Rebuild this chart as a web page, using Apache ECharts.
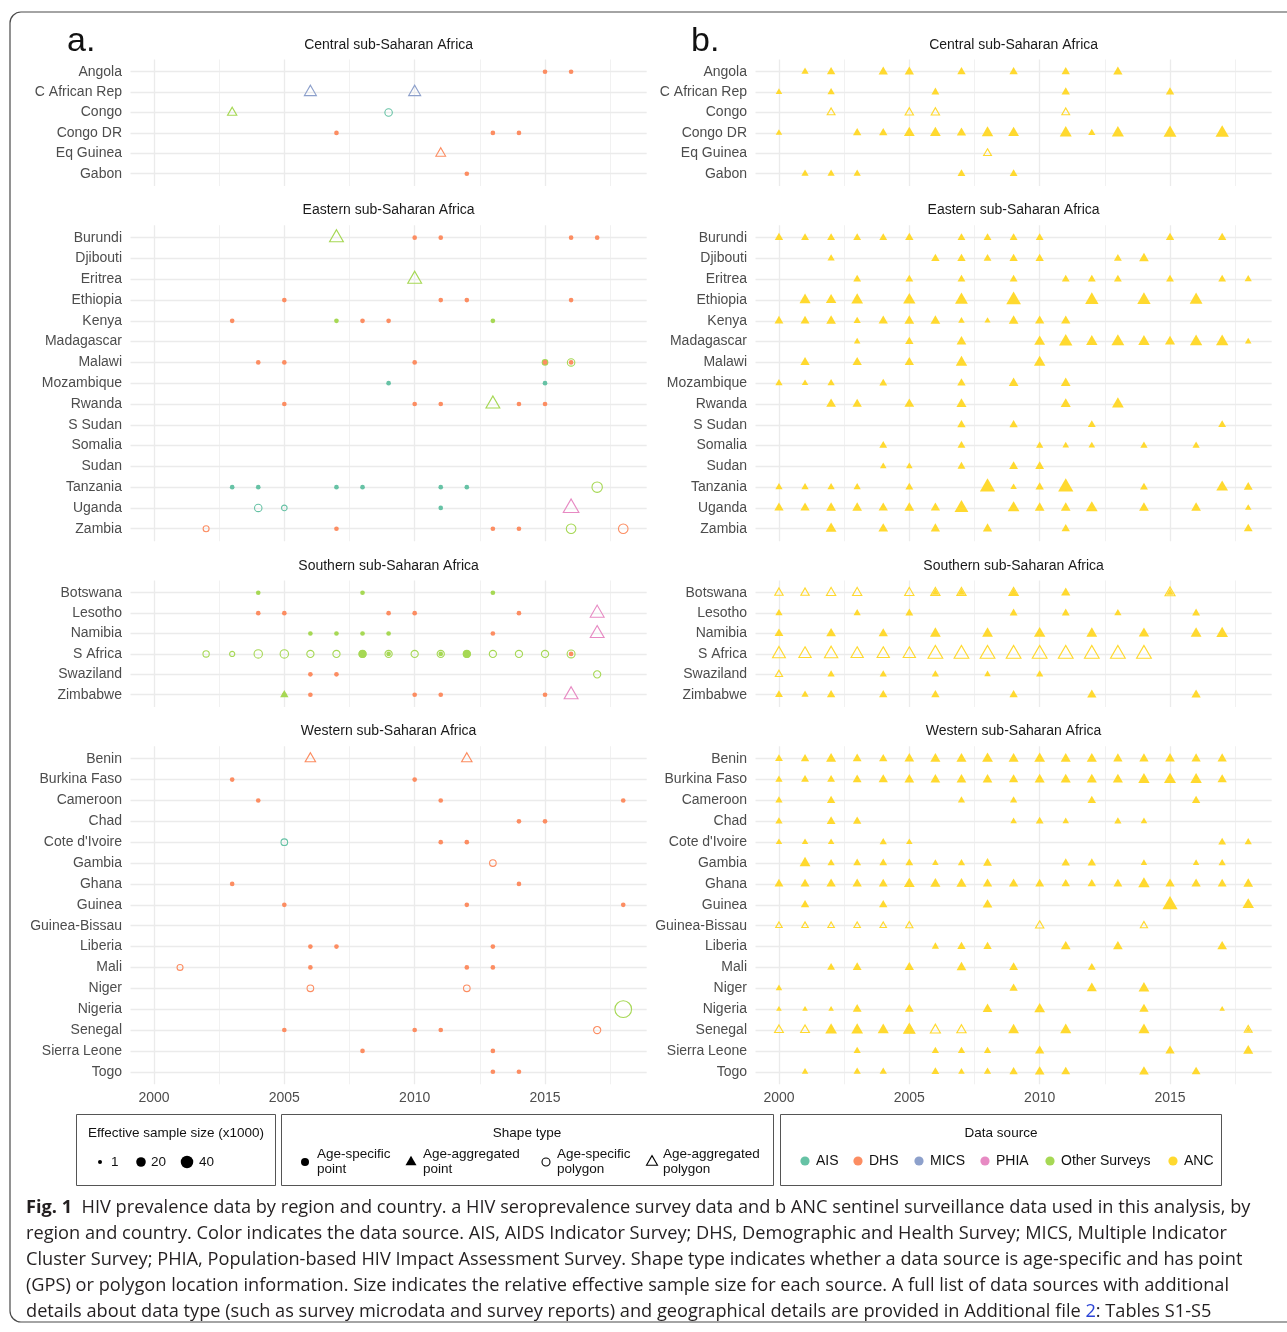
<!DOCTYPE html>
<html><head><meta charset="utf-8">
<script src="https://cdn.jsdelivr.net/npm/echarts@6/dist/echarts.min.js"></script>
<style>html,body{margin:0;padding:0;background:#fff}#c{width:1287px;height:1332px}</style>
</head><body><div id="c"></div><script>
// ---------------- DATA ----------------
const yearTicks = [2000, 2005, 2010, 2015];
const minorYearTicks = [2002.5, 2007.5, 2012.5, 2017.5];
const regionNames = ['Central sub-Saharan Africa', 'Eastern sub-Saharan Africa', 'Southern sub-Saharan Africa', 'Western sub-Saharan Africa'];
const centralCountries = ['Angola', 'C African Rep', 'Congo', 'Congo DR', 'Eq Guinea', 'Gabon'];
const easternCountries = ['Burundi', 'Djibouti', 'Eritrea', 'Ethiopia', 'Kenya', 'Madagascar', 'Malawi', 'Mozambique', 'Rwanda', 'S Sudan', 'Somalia', 'Sudan', 'Tanzania', 'Uganda', 'Zambia'];
const southernCountries = ['Botswana', 'Lesotho', 'Namibia', 'S Africa', 'Swaziland', 'Zimbabwe'];
const westernCountries = ['Benin', 'Burkina Faso', 'Cameroon', 'Chad', "Cote d'Ivoire", 'Gambia', 'Ghana', 'Guinea', 'Guinea-Bissau', 'Liberia', 'Mali', 'Niger', 'Nigeria', 'Senegal', 'Sierra Leone', 'Togo'];
const sourceNames = ['AIS', 'DHS', 'MICS', 'PHIA', 'Other Surveys', 'ANC'];
// shape codes: sp = age-specific point, ap = age-aggregated point, sg = age-specific polygon, ag = age-aggregated polygon
// survey rows: [country, year, source, shape, effective sample size (x1000)]
const centralSurvey = [
  ['Angola',2015,'DHS','sp',2],['Angola',2016,'DHS','sp',2],
  ['C African Rep',2006,'MICS','ag',15],['C African Rep',2010,'MICS','ag',15],
  ['Congo',2003,'Other Surveys','ag',7],['Congo',2009,'AIS','sg',10],
  ['Congo DR',2007,'DHS','sp',2],['Congo DR',2013,'DHS','sp',2],['Congo DR',2014,'DHS','sp',2],
  ['Eq Guinea',2011,'DHS','ag',8],
  ['Gabon',2012,'DHS','sp',2]
];
const easternSurvey = [
  ['Burundi',2007,'Other Surveys','ag',22],['Burundi',2010,'DHS','sp',2],['Burundi',2011,'DHS','sp',2],['Burundi',2016,'DHS','sp',2],['Burundi',2017,'DHS','sp',2],
  ['Eritrea',2010,'Other Surveys','ag',22],
  ['Ethiopia',2005,'DHS','sp',2],['Ethiopia',2011,'DHS','sp',2],['Ethiopia',2012,'DHS','sp',2],['Ethiopia',2016,'DHS','sp',2],
  ['Kenya',2003,'DHS','sp',2],['Kenya',2007,'Other Surveys','sp',2],['Kenya',2008,'DHS','sp',2],['Kenya',2009,'DHS','sp',2],['Kenya',2013,'Other Surveys','sp',2],
  ['Malawi',2004,'DHS','sp',2],['Malawi',2005,'DHS','sp',2],['Malawi',2010,'DHS','sp',2],['Malawi',2015,'Other Surveys','sp',7],['Malawi',2015,'DHS','sp',2],['Malawi',2016,'Other Surveys','sg',10],['Malawi',2016,'DHS','sp',2],
  ['Mozambique',2009,'AIS','sp',2],['Mozambique',2015,'AIS','sp',2],
  ['Rwanda',2005,'DHS','sp',2],['Rwanda',2010,'DHS','sp',2],['Rwanda',2011,'DHS','sp',2],['Rwanda',2013,'Other Surveys','ag',22],['Rwanda',2014,'DHS','sp',2],['Rwanda',2015,'DHS','sp',2],
  ['Tanzania',2003,'AIS','sp',2],['Tanzania',2004,'AIS','sp',2],['Tanzania',2007,'AIS','sp',2],['Tanzania',2008,'AIS','sp',2],['Tanzania',2011,'AIS','sp',2],['Tanzania',2012,'AIS','sp',2],['Tanzania',2017,'Other Surveys','sg',25],
  ['Uganda',2004,'AIS','sg',10],['Uganda',2005,'AIS','sg',4],['Uganda',2011,'AIS','sp',2],['Uganda',2016,'PHIA','ag',30],
  ['Zambia',2002,'DHS','sg',5],['Zambia',2007,'DHS','sp',2],['Zambia',2013,'DHS','sp',2],['Zambia',2014,'DHS','sp',2],['Zambia',2016,'Other Surveys','sg',20],['Zambia',2018,'DHS','sg',20]
];
const southernSurvey = [
  ['Botswana',2004,'Other Surveys','sp',2],['Botswana',2008,'Other Surveys','sp',2],['Botswana',2013,'Other Surveys','sp',2],
  ['Lesotho',2004,'DHS','sp',2],['Lesotho',2005,'DHS','sp',2],['Lesotho',2009,'DHS','sp',2],['Lesotho',2010,'DHS','sp',2],['Lesotho',2014,'DHS','sp',2],['Lesotho',2017,'PHIA','ag',22],
  ['Namibia',2006,'Other Surveys','sp',2],['Namibia',2007,'Other Surveys','sp',2],['Namibia',2008,'Other Surveys','sp',2],['Namibia',2009,'Other Surveys','sp',2],['Namibia',2013,'DHS','sp',2],['Namibia',2017,'PHIA','ag',22],
  ['S Africa',2002,'Other Surveys','sg',6],['S Africa',2003,'Other Surveys','sg',3],['S Africa',2004,'Other Surveys','sg',14],['S Africa',2005,'Other Surveys','sg',14],
  ['S Africa',2006,'Other Surveys','sg',9],['S Africa',2007,'Other Surveys','sg',9],['S Africa',2008,'Other Surveys','sg',9],['S Africa',2008,'Other Surveys','sp',12],
  ['S Africa',2009,'Other Surveys','sg',9],['S Africa',2009,'Other Surveys','sp',2],['S Africa',2010,'Other Surveys','sg',9],['S Africa',2011,'Other Surveys','sg',9],['S Africa',2011,'Other Surveys','sp',2],
  ['S Africa',2012,'Other Surveys','sg',9],['S Africa',2012,'Other Surveys','sp',12],['S Africa',2013,'Other Surveys','sg',9],['S Africa',2014,'Other Surveys','sg',9],['S Africa',2015,'Other Surveys','sg',9],
  ['S Africa',2016,'Other Surveys','sg',12],['S Africa',2016,'DHS','sp',2],
  ['Swaziland',2006,'DHS','sp',2],['Swaziland',2007,'DHS','sp',2],['Swaziland',2017,'Other Surveys','sg',9],
  ['Zimbabwe',2005,'DHS','sp',2],['Zimbabwe',2005,'Other Surveys','ap',5],['Zimbabwe',2006,'DHS','sp',2],['Zimbabwe',2010,'DHS','sp',2],['Zimbabwe',2011,'DHS','sp',2],['Zimbabwe',2015,'DHS','sp',2],['Zimbabwe',2016,'PHIA','ag',22]
];
const westernSurvey = [
  ['Benin',2006,'DHS','ag',10],['Benin',2012,'DHS','ag',10],
  ['Burkina Faso',2003,'DHS','sp',2],['Burkina Faso',2010,'DHS','sp',2],
  ['Cameroon',2004,'DHS','sp',2],['Cameroon',2011,'DHS','sp',2],['Cameroon',2018,'DHS','sp',2],
  ['Chad',2014,'DHS','sp',2],['Chad',2015,'DHS','sp',2],
  ["Cote d'Ivoire",2005,'AIS','sg',7],["Cote d'Ivoire",2011,'DHS','sp',2],["Cote d'Ivoire",2012,'DHS','sp',2],
  ['Gambia',2013,'DHS','sg',7],
  ['Ghana',2003,'DHS','sp',2],['Ghana',2014,'DHS','sp',2],
  ['Guinea',2005,'DHS','sp',2],['Guinea',2012,'DHS','sp',2],['Guinea',2018,'DHS','sp',2],
  ['Liberia',2006,'DHS','sp',2],['Liberia',2007,'DHS','sp',2],['Liberia',2013,'DHS','sp',2],
  ['Mali',2001,'DHS','sg',5],['Mali',2006,'DHS','sp',2],['Mali',2012,'DHS','sp',2],['Mali',2013,'DHS','sp',2],
  ['Niger',2006,'DHS','sg',7],['Niger',2012,'DHS','sg',7],
  ['Nigeria',2018,'Other Surveys','sg',80],
  ['Senegal',2005,'DHS','sp',2],['Senegal',2010,'DHS','sp',2],['Senegal',2011,'DHS','sp',2],['Senegal',2017,'DHS','sg',9],
  ['Sierra Leone',2008,'DHS','sp',2],['Sierra Leone',2013,'DHS','sp',2],
  ['Togo',2013,'DHS','sp',2],['Togo',2014,'DHS','sp',2]
];
// ANC rows: [country, year, shape, effective sample size (x1000)]
const centralANC = [
  ['Angola',2001,'ap',3],['Angola',2002,'ap',5],['Angola',2004,'ap',7],['Angola',2005,'ap',7],['Angola',2007,'ap',5],['Angola',2009,'ap',5],['Angola',2011,'ap',5],['Angola',2013,'ap',7],
  ['C African Rep',2000,'ap',2],['C African Rep',2002,'ap',3],['C African Rep',2006,'ap',4],['C African Rep',2011,'ap',5],['C African Rep',2015,'ap',5],
  ['Congo',2002,'ag',4],['Congo',2005,'ag',5],['Congo',2006,'ag',5],['Congo',2011,'ag',4],
  ['Congo DR',2000,'ap',2],['Congo DR',2003,'ap',5],['Congo DR',2004,'ap',5],['Congo DR',2005,'ap',11],['Congo DR',2006,'ap',11],['Congo DR',2007,'ap',7],['Congo DR',2008,'ap',13],['Congo DR',2009,'ap',11],
  ['Congo DR',2011,'ap',15],['Congo DR',2012,'ap',3],['Congo DR',2013,'ap',15],['Congo DR',2015,'ap',18],['Congo DR',2017,'ap',20],
  ['Eq Guinea',2008,'ag',4],
  ['Gabon',2001,'ap',3],['Gabon',2002,'ap',3],['Gabon',2003,'ap',3],['Gabon',2007,'ap',4],['Gabon',2009,'ap',4]
];
const easternANC = [
  ['Burundi',2000,'ap',5],['Burundi',2001,'ap',4],['Burundi',2002,'ap',4],['Burundi',2003,'ap',4],['Burundi',2004,'ap',4],['Burundi',2005,'ap',5],['Burundi',2007,'ap',4],['Burundi',2008,'ap',4],['Burundi',2009,'ap',4],['Burundi',2010,'ap',4],['Burundi',2015,'ap',5],['Burundi',2017,'ap',5],
  ['Djibouti',2002,'ap',3],['Djibouti',2006,'ap',5],['Djibouti',2007,'ap',5],['Djibouti',2008,'ap',4],['Djibouti',2009,'ap',5],['Djibouti',2010,'ap',5],['Djibouti',2013,'ap',4],['Djibouti',2014,'ap',8],
  ['Eritrea',2003,'ap',4],['Eritrea',2005,'ap',4],['Eritrea',2007,'ap',4],['Eritrea',2009,'ap',4],['Eritrea',2011,'ap',4],['Eritrea',2012,'ap',4],['Eritrea',2013,'ap',4],['Eritrea',2015,'ap',4],['Eritrea',2017,'ap',4],['Eritrea',2018,'ap',3],
  ['Ethiopia',2001,'ap',12],['Ethiopia',2002,'ap',10],['Ethiopia',2003,'ap',14],['Ethiopia',2005,'ap',16],['Ethiopia',2007,'ap',18],['Ethiopia',2009,'ap',26],['Ethiopia',2012,'ap',20],['Ethiopia',2014,'ap',20],['Ethiopia',2016,'ap',18],
  ['Kenya',2000,'ap',6],['Kenya',2001,'ap',6],['Kenya',2002,'ap',8],['Kenya',2003,'ap',3],['Kenya',2004,'ap',7],['Kenya',2005,'ap',8],['Kenya',2006,'ap',8],['Kenya',2007,'ap',2],['Kenya',2008,'ap',1.5],['Kenya',2009,'ap',8],['Kenya',2010,'ap',7],['Kenya',2011,'ap',7],
  ['Madagascar',2003,'ap',2],['Madagascar',2005,'ap',5],['Madagascar',2007,'ap',8],['Madagascar',2010,'ap',11],['Madagascar',2011,'ap',20],['Madagascar',2012,'ap',13],['Madagascar',2013,'ap',18],['Madagascar',2014,'ap',13],['Madagascar',2015,'ap',9],['Madagascar',2016,'ap',16],['Madagascar',2017,'ap',16],['Madagascar',2018,'ap',2],
  ['Malawi',2001,'ap',7],['Malawi',2003,'ap',7],['Malawi',2005,'ap',7],['Malawi',2007,'ap',13],['Malawi',2010,'ap',13],
  ['Mozambique',2000,'ap',3],['Mozambique',2001,'ap',2],['Mozambique',2002,'ap',3],['Mozambique',2004,'ap',4],['Mozambique',2007,'ap',5],['Mozambique',2009,'ap',8],['Mozambique',2011,'ap',8],
  ['Rwanda',2002,'ap',8],['Rwanda',2003,'ap',7],['Rwanda',2005,'ap',8],['Rwanda',2007,'ap',9],['Rwanda',2011,'ap',9],['Rwanda',2013,'ap',14],
  ['S Sudan',2007,'ap',5],['S Sudan',2009,'ap',5],['S Sudan',2012,'ap',4],['S Sudan',2017,'ap',4],
  ['Somalia',2004,'ap',4],['Somalia',2007,'ap',4],['Somalia',2010,'ap',3],['Somalia',2011,'ap',2],['Somalia',2012,'ap',2],['Somalia',2014,'ap',3],['Somalia',2016,'ap',3],
  ['Sudan',2004,'ap',2],['Sudan',2005,'ap',2],['Sudan',2007,'ap',4],['Sudan',2009,'ap',6],['Sudan',2010,'ap',6],
  ['Tanzania',2000,'ap',3],['Tanzania',2001,'ap',3],['Tanzania',2002,'ap',3],['Tanzania',2003,'ap',3],['Tanzania',2005,'ap',4],['Tanzania',2008,'ap',28],['Tanzania',2009,'ap',2],['Tanzania',2010,'ap',5],['Tanzania',2011,'ap',28],['Tanzania',2014,'ap',4],['Tanzania',2017,'ap',14],['Tanzania',2018,'ap',6],
  ['Uganda',2000,'ap',7],['Uganda',2001,'ap',7],['Uganda',2002,'ap',8],['Uganda',2003,'ap',8],['Uganda',2004,'ap',7],['Uganda',2005,'ap',8],['Uganda',2006,'ap',7],['Uganda',2007,'ap',22],['Uganda',2009,'ap',14],['Uganda',2010,'ap',8],['Uganda',2011,'ap',8],['Uganda',2012,'ap',14],['Uganda',2014,'ap',8],['Uganda',2016,'ap',8],['Uganda',2018,'ap',2],
  ['Zambia',2002,'ap',11],['Zambia',2004,'ap',8],['Zambia',2006,'ap',7],['Zambia',2008,'ap',7],['Zambia',2011,'ap',5],['Zambia',2018,'ap',6]
];
const southernANC = [
  ['Botswana',2000,'ag',5],['Botswana',2001,'ag',5],['Botswana',2002,'ag',7],['Botswana',2003,'ag',7],['Botswana',2005,'ag',7],['Botswana',2006,'ag',7],['Botswana',2006,'ap',3],
  ['Botswana',2007,'ag',7],['Botswana',2007,'ap',3],['Botswana',2009,'ag',7],['Botswana',2009,'ap',4],['Botswana',2011,'ap',7],['Botswana',2015,'ag',9],['Botswana',2015,'ap',3],
  ['Lesotho',2000,'ap',3],['Lesotho',2003,'ap',3],['Lesotho',2005,'ap',4],['Lesotho',2009,'ap',4],['Lesotho',2011,'ap',4],['Lesotho',2013,'ap',3],['Lesotho',2016,'ap',4],
  ['Namibia',2000,'ap',6],['Namibia',2002,'ap',8],['Namibia',2004,'ap',7],['Namibia',2006,'ap',11],['Namibia',2008,'ap',11],['Namibia',2010,'ap',13],['Namibia',2012,'ap',11],['Namibia',2014,'ap',10],['Namibia',2016,'ap',11],['Namibia',2017,'ap',14],
  ['S Africa',2000,'ag',18],['S Africa',2001,'ag',16],['S Africa',2002,'ag',20],['S Africa',2003,'ag',16],['S Africa',2004,'ag',16],['S Africa',2005,'ag',16],['S Africa',2006,'ag',26],['S Africa',2007,'ag',26],
  ['S Africa',2008,'ag',26],['S Africa',2009,'ag',26],['S Africa',2010,'ag',26],['S Africa',2011,'ag',26],['S Africa',2012,'ag',26],['S Africa',2013,'ag',26],['S Africa',2014,'ag',26],
  ['Swaziland',2000,'ag',3],['Swaziland',2002,'ap',3],['Swaziland',2004,'ap',3],['Swaziland',2006,'ap',3],['Swaziland',2008,'ap',2],['Swaziland',2010,'ap',3],
  ['Zimbabwe',2000,'ap',4],['Zimbabwe',2001,'ap',3],['Zimbabwe',2002,'ap',5],['Zimbabwe',2004,'ap',5],['Zimbabwe',2006,'ap',5],['Zimbabwe',2009,'ap',5],['Zimbabwe',2012,'ap',7],['Zimbabwe',2016,'ap',7]
];
const westernANC = [
  ['Benin',2000,'ap',4],['Benin',2001,'ap',5],['Benin',2002,'ap',9],['Benin',2003,'ap',6],['Benin',2004,'ap',5],['Benin',2005,'ap',8],['Benin',2006,'ap',9],['Benin',2007,'ap',9],['Benin',2008,'ap',11],
  ['Benin',2009,'ap',9],['Benin',2010,'ap',11],['Benin',2011,'ap',9],['Benin',2012,'ap',9],['Benin',2013,'ap',7],['Benin',2014,'ap',7],['Benin',2015,'ap',8],['Benin',2016,'ap',7],['Benin',2017,'ap',7],
  ['Burkina Faso',2000,'ap',3],['Burkina Faso',2001,'ap',4],['Burkina Faso',2002,'ap',4],['Burkina Faso',2003,'ap',6],['Burkina Faso',2004,'ap',7],['Burkina Faso',2005,'ap',8],['Burkina Faso',2006,'ap',8],
  ['Burkina Faso',2007,'ap',8],['Burkina Faso',2008,'ap',8],['Burkina Faso',2009,'ap',7],['Burkina Faso',2010,'ap',9],['Burkina Faso',2011,'ap',9],['Burkina Faso',2012,'ap',9],['Burkina Faso',2013,'ap',9],
  ['Burkina Faso',2014,'ap',13],['Burkina Faso',2015,'ap',15],['Burkina Faso',2016,'ap',13],['Burkina Faso',2017,'ap',7],
  ['Cameroon',2000,'ap',3],['Cameroon',2002,'ap',5],['Cameroon',2007,'ap',3],['Cameroon',2009,'ap',3],['Cameroon',2012,'ap',5],['Cameroon',2016,'ap',5],
  ['Chad',2000,'ap',3],['Chad',2002,'ap',6],['Chad',2003,'ap',5],['Chad',2009,'ap',2],['Chad',2010,'ap',4],['Chad',2011,'ap',2],['Chad',2013,'ap',3],['Chad',2014,'ap',2],
  ["Cote d'Ivoire",2000,'ap',2],["Cote d'Ivoire",2001,'ap',2],["Cote d'Ivoire",2002,'ap',2],["Cote d'Ivoire",2004,'ap',3],["Cote d'Ivoire",2005,'ap',2],["Cote d'Ivoire",2017,'ap',4],["Cote d'Ivoire",2018,'ap',3],
  ['Gambia',2001,'ap',11],['Gambia',2002,'ap',3],['Gambia',2003,'ap',4],['Gambia',2004,'ap',4],['Gambia',2005,'ap',4],['Gambia',2006,'ap',2],['Gambia',2007,'ap',3],['Gambia',2008,'ap',6],
  ['Gambia',2011,'ap',5],['Gambia',2012,'ap',5],['Gambia',2014,'ap',2],['Gambia',2016,'ap',2],['Gambia',2017,'ap',3],
  ['Ghana',2000,'ap',6],['Ghana',2001,'ap',6],['Ghana',2002,'ap',7],['Ghana',2003,'ap',7],['Ghana',2004,'ap',6],['Ghana',2005,'ap',11],['Ghana',2006,'ap',9],['Ghana',2007,'ap',9],['Ghana',2008,'ap',7],
  ['Ghana',2009,'ap',7],['Ghana',2010,'ap',6],['Ghana',2011,'ap',5],['Ghana',2012,'ap',5],['Ghana',2013,'ap',6],['Ghana',2014,'ap',13],['Ghana',2015,'ap',7],['Ghana',2016,'ap',7],['Ghana',2017,'ap',6],['Ghana',2018,'ap',8],
  ['Guinea',2001,'ap',5],['Guinea',2004,'ap',5],['Guinea',2008,'ap',8],['Guinea',2015,'ap',28],['Guinea',2018,'ap',13],
  ['Guinea-Bissau',2000,'ag',2],['Guinea-Bissau',2001,'ag',2],['Guinea-Bissau',2002,'ag',2],['Guinea-Bissau',2003,'ag',2],['Guinea-Bissau',2004,'ag',2],['Guinea-Bissau',2005,'ag',3],['Guinea-Bissau',2010,'ag',5],['Guinea-Bissau',2014,'ag',3],
  ['Liberia',2006,'ap',3],['Liberia',2007,'ap',5],['Liberia',2008,'ap',5],['Liberia',2011,'ap',8],['Liberia',2013,'ap',8],['Liberia',2017,'ap',8],
  ['Mali',2002,'ap',4],['Mali',2003,'ap',6],['Mali',2005,'ap',7],['Mali',2007,'ap',8],['Mali',2009,'ap',6],['Mali',2012,'ap',4],
  ['Niger',2000,'ap',2],['Niger',2009,'ap',5],['Niger',2012,'ap',9],['Niger',2014,'ap',11],
  ['Nigeria',2000,'ap',1],['Nigeria',2001,'ap',1],['Nigeria',2002,'ap',1],['Nigeria',2003,'ap',6],['Nigeria',2005,'ap',6],['Nigeria',2008,'ap',8],['Nigeria',2010,'ap',11],['Nigeria',2014,'ap',7],['Nigeria',2017,'ap',1],
  ['Senegal',2000,'ag',6],['Senegal',2001,'ag',6],['Senegal',2002,'ap',14],['Senegal',2003,'ap',14],['Senegal',2004,'ap',12],['Senegal',2005,'ag',12],['Senegal',2005,'ap',12],['Senegal',2006,'ag',9],['Senegal',2007,'ag',7],
  ['Senegal',2009,'ap',11],['Senegal',2011,'ap',12],['Senegal',2014,'ap',12],['Senegal',2018,'ag',4],['Senegal',2018,'ap',1],
  ['Sierra Leone',2003,'ap',3],['Sierra Leone',2006,'ap',3],['Sierra Leone',2007,'ap',3],['Sierra Leone',2008,'ap',3],['Sierra Leone',2010,'ap',7],['Sierra Leone',2015,'ap',7],['Sierra Leone',2018,'ap',9],
  ['Togo',2001,'ap',2],['Togo',2003,'ap',3],['Togo',2004,'ap',3],['Togo',2006,'ap',4],['Togo',2007,'ap',2],['Togo',2008,'ap',3],['Togo',2009,'ap',5],['Togo',2010,'ap',8],['Togo',2011,'ap',6],['Togo',2014,'ap',8],['Togo',2016,'ap',6]
];
const legendSizes = [1, 20, 40];
const captionLines = [
  '{b|Fig. 1}  HIV prevalence data by region and country. a HIV seroprevalence survey data and b ANC sentinel surveillance data used in this analysis, by',
  'region and country. Color indicates the data source. AIS, AIDS Indicator Survey; DHS, Demographic and Health Survey; MICS, Multiple Indicator',
  'Cluster Survey; PHIA, Population-based HIV Impact Assessment Survey. Shape type indicates whether a data source is age-specific and has point',
  '(GPS) or polygon location information. Size indicates the relative effective sample size for each source. A full list of data sources with additional',
  'details about data type (such as survey microdata and survey reports) and geographical details are provided in Additional file {l|2}: Tables S1-S5'
];

// ---------------- STYLE / LAYOUT ----------------
const COLORS = {'AIS':'#66c2a5','DHS':'#fc8d62','MICS':'#8da0cb','PHIA':'#e78ac3','Other Surveys':'#a6d854','ANC':'#ffd92f'};
const FONT = '"Liberation Sans", Arial, Helvetica, sans-serif';
const CAP_FONT = '"Open Sans", Lato, sans-serif';
const CAP_SIZE = 18.2;
const GRID_COL = '#ebebeb';
const PANEL_LEFT = [130.5, 755.5];
const PANEL_W = 516.2;
const rowLayout = [{top:59.5, step:20.4}, {top:225.2, step:20.79}, {top:580.5, step:20.4}, {top:746.2, step:20.87}];
const regionCountries = [centralCountries, easternCountries, southernCountries, westernCountries];
const regionSurvey = [centralSurvey, easternSurvey, southernSurvey, westernSurvey];
const regionANC = [centralANC, easternANC, southernANC, westernANC];

const diam = n => 2.4 + 1.6 * Math.sqrt(n);
function makeItem(countries, country, year, source, shape, n) {
  const d = diam(n);
  const tri = shape === 'ap' || shape === 'ag';
  const open = shape === 'sg' || shape === 'ag';
  const col = COLORS[source];
  let size = d, offset = [0, 0];
  if (tri) { const w = d * 1.4, h = w * 0.866; size = [w, h]; offset = [0, -h / 6]; }
  return {
    value: [year, countries.indexOf(country)],
    symbol: tri ? 'triangle' : 'circle',
    symbolSize: size, symbolOffset: offset,
    itemStyle: { color: open ? 'rgba(255,255,255,0)' : col, borderColor: col, borderWidth: open ? 1.1 : 0, opacity: 1 }
  };
}

const grids = [], xAxes = [], yAxes = [], series = [], graphics = [];
for (let r = 0; r < 4; r++) {
  const countries = regionCountries[r];
  const n = countries.length;
  const L = rowLayout[r];
  const h = L.step * (n + 0.2);
  const idx = countries.map((_, i) => i);
  for (let p = 0; p < 2; p++) {
    const g = grids.length;
    grids.push({ left: PANEL_LEFT[p], top: L.top, width: PANEL_W, height: h, containLabel: false });
    const bottom = r === 3;
    xAxes.push({
      gridIndex: g, type: 'value', min: 1999.1, max: 2018.9,
      axisLine: { show: false }, axisTick: { show: false, customValues: yearTicks },
      axisLabel: { show: bottom, customValues: yearTicks, color: '#4d4d4d', fontSize: 14, fontFamily: FONT, margin: 7, formatter: v => String(v) },
      splitLine: { show: true, lineStyle: { color: GRID_COL, width: 1.3 } }
    });
    xAxes.push({
      gridIndex: g, type: 'value', min: 1999.1, max: 2018.9,
      axisLine: { show: false }, axisTick: { show: false, customValues: minorYearTicks },
      axisLabel: { show: false, customValues: minorYearTicks },
      splitLine: { show: true, lineStyle: { color: GRID_COL, width: 0.7 } }
    });
    yAxes.push({
      gridIndex: g, type: 'value', inverse: true, min: -0.6, max: n - 0.4,
      axisLine: { show: false }, axisTick: { show: false, customValues: idx },
      axisLabel: { customValues: idx, color: '#4d4d4d', fontSize: 14, fontFamily: FONT, margin: 8.5, formatter: v => countries[Math.round(v)] },
      splitLine: { show: true, lineStyle: { color: GRID_COL, width: 1.3 } }
    });
    const rows = p === 0 ? regionSurvey[r] : regionANC[r];
    const data = rows.map(row => p === 0
      ? makeItem(countries, row[0], row[1], row[2], row[3], row[4])
      : makeItem(countries, row[0], row[1], 'ANC', row[2], row[3]));
    series.push({ type: 'scatter', xAxisIndex: 2 * g, yAxisIndex: g, data, silent: true, animation: false, z: 3, clip: false });
    graphics.push({ type: 'text', x: PANEL_LEFT[p] + PANEL_W / 2, y: L.top - 14.7,
      style: { text: regionNames[r], fill: '#1a1a1a', font: '14px ' + FONT, textAlign: 'center', textVerticalAlign: 'middle' } });
  }
}

// border and panel letters
graphics.push({ type: 'rect', shape: { x: 10, y: 12, width: 1300, height: 1310, r: 11 }, style: { fill: 'none', stroke: '#4a4a4a', lineWidth: 1.2 }, z: -1 });
graphics.push({ type: 'text', x: 67, y: 42, style: { text: 'a.', fill: '#111', font: '34px ' + FONT, textVerticalAlign: 'middle' } });
graphics.push({ type: 'text', x: 691, y: 42, style: { text: 'b.', fill: '#111', font: '34px ' + FONT, textVerticalAlign: 'middle' } });

// legends
const LEG_FONT = '13.5px ' + FONT;
const box = (x, w) => ({ type: 'rect', shape: { x, y: 1114.5, width: w, height: 71 }, style: { fill: '#fff', stroke: '#555', lineWidth: 1 } });
graphics.push(box(76.5, 199), box(281.5, 492), box(780.5, 441));
graphics.push({ type: 'text', x: 176, y: 1133, style: { text: 'Effective sample size (x1000)', fill: '#111', font: LEG_FONT, textAlign: 'center', textVerticalAlign: 'middle' } });
const sizeX = [100, 141, 187];
const sizeTextX = [111, 151, 199];
legendSizes.forEach((v, i) => {
  graphics.push({ type: 'circle', shape: { cx: sizeX[i], cy: 1162, r: diam(v) / 2 }, style: { fill: '#000' } });
  graphics.push({ type: 'text', x: sizeTextX[i], y: 1162, style: { text: String(v), fill: '#111', font: LEG_FONT, textVerticalAlign: 'middle' } });
});
graphics.push({ type: 'text', x: 527, y: 1133, style: { text: 'Shape type', fill: '#111', font: LEG_FONT, textAlign: 'center', textVerticalAlign: 'middle' } });
const shapeItems = [
  { x: 305, tx: 317, lines: 'Age-specific\npoint', kind: 'sp' },
  { x: 411, tx: 423, lines: 'Age-aggregated\npoint', kind: 'ap' },
  { x: 546, tx: 557, lines: 'Age-specific\npolygon', kind: 'sg' },
  { x: 652, tx: 663, lines: 'Age-aggregated\npolygon', kind: 'ag' }
];
shapeItems.forEach(s => {
  const open = s.kind === 'sg' || s.kind === 'ag';
  const st = open ? { fill: 'none', stroke: '#000', lineWidth: 1.1 } : { fill: '#000' };
  if (s.kind === 'sp' || s.kind === 'sg') graphics.push({ type: 'circle', shape: { cx: s.x, cy: 1162, r: 4 }, style: st });
  else { const w = 11, hh = w * 0.866; graphics.push({ type: 'polygon', shape: { points: [[s.x, 1162 - hh * 2 / 3], [s.x + w / 2, 1162 + hh / 3], [s.x - w / 2, 1162 + hh / 3]] }, style: st }); }
  graphics.push({ type: 'text', x: s.tx, y: 1162, style: { text: s.lines, fill: '#111', font: LEG_FONT, lineHeight: 15, textVerticalAlign: 'middle' } });
});
graphics.push({ type: 'text', x: 1001, y: 1133, style: { text: 'Data source', fill: '#111', font: LEG_FONT, textAlign: 'center', textVerticalAlign: 'middle' } });
const srcX = [805, 858, 919, 985, 1050, 1173];
sourceNames.forEach((s, i) => {
  graphics.push({ type: 'circle', shape: { cx: srcX[i], cy: 1161, r: 4.6 }, style: { fill: COLORS[s] } });
  graphics.push({ type: 'text', x: srcX[i] + 11, y: 1161, style: { text: s, fill: '#111', font: '14px ' + FONT, textVerticalAlign: 'middle' } });
});

// caption
captionLines.forEach((t, i) => {
  graphics.push({ type: 'text', x: 26, y: 1208 + i * 26, style: {
    text: t, fill: '#231f20', font: CAP_SIZE + 'px ' + CAP_FONT, textVerticalAlign: 'middle',
    rich: { b: { fontWeight: 'bold', fontSize: CAP_SIZE, fontFamily: 'Open Sans', fill: '#231f20' }, l: { fill: '#2a43d6', fontSize: CAP_SIZE, fontFamily: 'Open Sans' } }
  } });
});

const chart = echarts.init(document.getElementById('c'), null, { renderer: 'canvas' });
chart.setOption({ animation: false, backgroundColor: '#fff', grid: grids, xAxis: xAxes, yAxis: yAxes, series, graphic: { elements: graphics } });
</script></body></html>
